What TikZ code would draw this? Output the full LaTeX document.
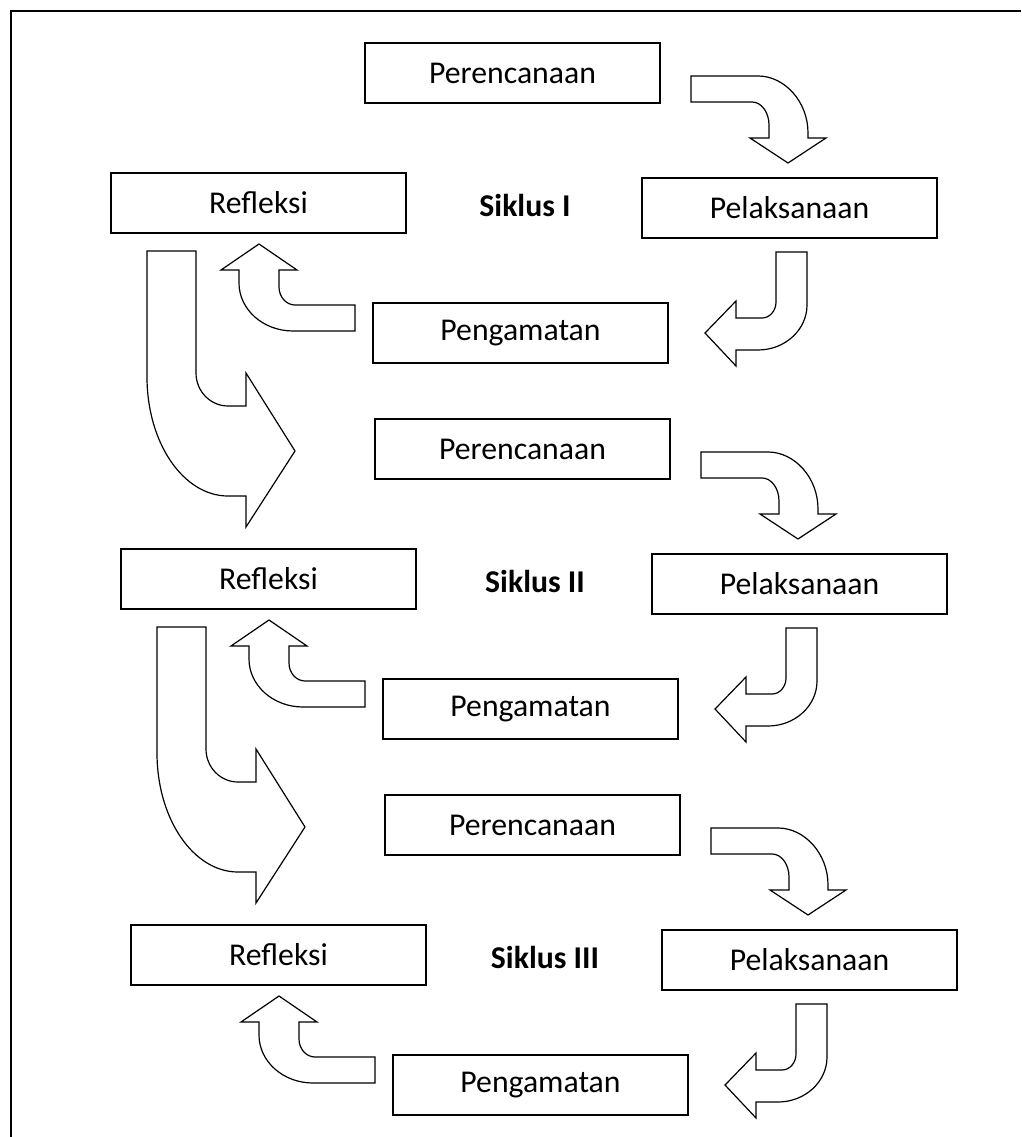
\documentclass[tikz,border=0pt]{standalone}
\usepackage{fontspec}
\setmainfont{Carlito}
\begin{document}
\begin{tikzpicture}[x=0.75pt,y=-0.75pt,
  box/.style={draw,line width=1.2pt,minimum width=221pt,minimum height=45pt,inner sep=0pt,
    font=\fontsize{23.8}{28}\selectfont},
  lbl/.style={font=\fontsize{23.8}{28}\selectfont\bfseries,inner sep=0pt},
  blockarrow/.style={draw,line width=0.9pt,fill=white,line join=miter}]
\useasboundingbox (0,0) rectangle (1021,1137);
\draw[line width=1.5pt] (11,1137) -- (11,11) -- (1021,11);
\foreach \k/\r in {0/I,1/II,2/III}{
\begin{scope}[shift={(10*\k,376*\k)}]
  \node[box] (per\k) at (512.5,73) {Perencanaan};
  \node[box] (ref\k) at (258.5,203) {Refleksi};
  \node[box] (pel\k) at (789.5,208) {Pelaksanaan};
  \node[box] (pen\k) at (520.5,333) {Pengamatan};
  \node[lbl] (sik\k) at (525,205) {Siklus \r};
  % Perencanaan -> Pelaksanaan
  \draw[blockarrow] (691,76) -- (758,76) .. controls (784.5,76) and (808,101.5) .. (808,133)
    -- (808,138) -- (826,138) -- (788,163) -- (750,138) -- (769,138) -- (769,125)
    .. controls (769,112.3) and (761.4,102) .. (752,102) -- (691,102) -- cycle;
  % Pelaksanaan -> Pengamatan
  \draw[blockarrow] (776,252) -- (807,252) -- (807,305) .. controls (807,329.8) and (785,350) .. (758,350)
    -- (736,350) -- (736,366) -- (705,333) -- (736,301) -- (736,318) -- (762,318)
    .. controls (769.7,318) and (776,310.8) .. (776,302) -- cycle;
  % Pengamatan -> Refleksi
  \draw[blockarrow] (355,305) -- (295,305) .. controls (286.2,305) and (279,296.9) .. (279,287)
    -- (279,270) -- (297,270) -- (259,244) -- (221,270) -- (239,270) -- (239,283)
    .. controls (239,309.5) and (263.2,331) .. (293,331) -- (355,331) -- cycle;
  % Refleksi -> next cycle
  \ifnum\k<2
  \draw[blockarrow] (147,251) -- (196,251) -- (196,373) .. controls (196,391.2) and (210.3,406) .. (228,406)
    -- (246,406) -- (246,373) -- (295,451) -- (246,527) -- (246,496) -- (228,496)
    .. controls (183.3,496) and (147,442.7) .. (147,377) -- cycle;
  \fi
\end{scope}
}
\end{tikzpicture}
\end{document}
